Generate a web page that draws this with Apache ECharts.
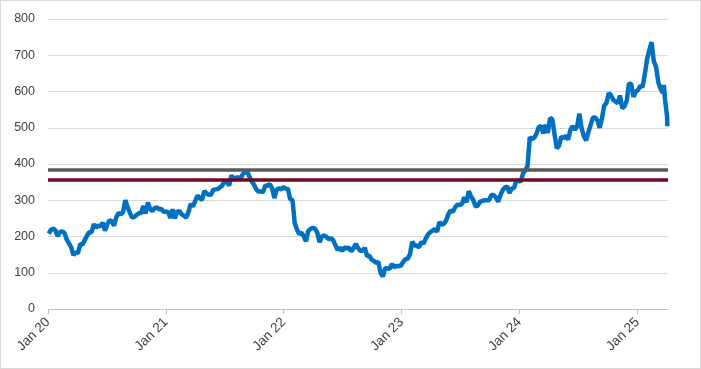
<!DOCTYPE html>
<html>
<head>
<meta charset="utf-8">
<script src="https://cdn.jsdelivr.net/npm/echarts@6/dist/echarts.min.js"></script>
<style>
html,body{margin:0;padding:0;background:#fff;}
#c{width:699px;height:367px;border:1px solid #D9D9D9;}
</style>
</head>
<body>
<div id="c"></div>
<script>
// Weekly closing prices
const dates = [
'2020-01-03','2020-01-10','2020-01-17','2020-01-24','2020-01-31','2020-02-07','2020-02-14','2020-02-21','2020-02-28','2020-03-06','2020-03-13','2020-03-20','2020-03-27','2020-04-03','2020-04-10','2020-04-17','2020-04-24','2020-05-01','2020-05-08','2020-05-15','2020-05-22','2020-05-29','2020-06-05','2020-06-12','2020-06-19','2020-06-26','2020-07-03','2020-07-10','2020-07-17','2020-07-24','2020-07-31','2020-08-07','2020-08-14','2020-08-21','2020-08-28','2020-09-04','2020-09-11','2020-09-18','2020-09-25','2020-10-02','2020-10-09','2020-10-16','2020-10-23','2020-10-30','2020-11-06','2020-11-13','2020-11-20','2020-11-27','2020-12-04','2020-12-11','2020-12-18','2020-12-25','2020-12-31',
'2021-01-08','2021-01-15','2021-01-22','2021-01-29','2021-02-05','2021-02-12','2021-02-19','2021-02-26','2021-03-05','2021-03-12','2021-03-19','2021-03-26','2021-04-02','2021-04-09','2021-04-16','2021-04-23','2021-04-30','2021-05-07','2021-05-14','2021-05-21','2021-05-28','2021-06-04','2021-06-11','2021-06-18','2021-06-25','2021-07-02','2021-07-09','2021-07-16','2021-07-23','2021-07-30','2021-08-06','2021-08-13','2021-08-20','2021-08-27','2021-09-03','2021-09-10','2021-09-17','2021-09-24','2021-10-01','2021-10-08','2021-10-15','2021-10-22','2021-10-29','2021-11-05','2021-11-12','2021-11-19','2021-11-26','2021-12-03','2021-12-10','2021-12-17','2021-12-24','2021-12-31',
'2022-01-07','2022-01-14','2022-01-21','2022-01-28','2022-02-04','2022-02-11','2022-02-18','2022-02-25','2022-03-04','2022-03-11','2022-03-18','2022-03-25','2022-04-01','2022-04-08','2022-04-15','2022-04-22','2022-04-29','2022-05-06','2022-05-13','2022-05-20','2022-05-27','2022-06-03','2022-06-10','2022-06-17','2022-06-24','2022-07-01','2022-07-08','2022-07-15','2022-07-22','2022-07-29','2022-08-05','2022-08-12','2022-08-19','2022-08-26','2022-09-02','2022-09-09','2022-09-16','2022-09-23','2022-09-30','2022-10-07','2022-10-14','2022-10-21','2022-10-28','2022-11-04','2022-11-11','2022-11-18','2022-11-25','2022-12-02','2022-12-09','2022-12-16','2022-12-23','2022-12-30',
'2023-01-06','2023-01-13','2023-01-20','2023-01-27','2023-02-03','2023-02-10','2023-02-17','2023-02-24','2023-03-03','2023-03-10','2023-03-17','2023-03-24','2023-03-31','2023-04-07','2023-04-14','2023-04-21','2023-04-28','2023-05-05','2023-05-12','2023-05-19','2023-05-26','2023-06-02','2023-06-09','2023-06-16','2023-06-23','2023-06-30','2023-07-07','2023-07-14','2023-07-21','2023-07-28','2023-08-04','2023-08-11','2023-08-18','2023-08-25','2023-09-01','2023-09-08','2023-09-15','2023-09-22','2023-09-29','2023-10-06','2023-10-13','2023-10-20','2023-10-27','2023-11-03','2023-11-10','2023-11-17','2023-11-24','2023-12-01','2023-12-08','2023-12-15','2023-12-22','2023-12-29',
'2024-01-05','2024-01-12','2024-01-19','2024-01-26','2024-02-02','2024-02-09','2024-02-16','2024-02-23','2024-03-01','2024-03-08','2024-03-15','2024-03-22','2024-03-29','2024-04-05','2024-04-12','2024-04-19','2024-04-26','2024-05-03','2024-05-10','2024-05-17','2024-05-24','2024-05-31','2024-06-07','2024-06-14','2024-06-21','2024-06-28','2024-07-05','2024-07-12','2024-07-19','2024-07-26','2024-08-02','2024-08-09','2024-08-16','2024-08-23','2024-08-30','2024-09-06','2024-09-13','2024-09-20','2024-09-27','2024-10-04','2024-10-11','2024-10-18','2024-10-25','2024-11-01','2024-11-08','2024-11-15','2024-11-22','2024-11-29','2024-12-06','2024-12-13','2024-12-20','2024-12-27',
'2025-01-03','2025-01-10','2025-01-17','2025-01-24','2025-01-31','2025-02-07','2025-02-14','2025-02-21','2025-02-28','2025-03-07','2025-03-14','2025-03-21','2025-03-24','2025-03-28','2025-04-03','2025-04-04'
];
const prices = [
208,218,222,217,201,212,214,210,192,181,170,149,156,154,179,178,190,202,212,211,234,225,230,228,238,216,233,245,242,230,253,265,261,267,300,282,266,252,254,259,264,265,284,263,294,276,270,278,280,275,276,268,273,
268,251,275,250,268,270,261,257,252,268,290,283,298,313,306,301,325,319,315,316,329,330,331,336,341,354,350,341,369,356,363,363,359,372,377,380,364,352,343,330,324,324,323,341,340,345,333,306,329,333,330,336,
332,331,303,301,237,219,206,211,200,187,216,221,224,222,210,184,200,203,199,193,195,190,176,163,170,160,170,167,169,159,167,180,168,161,160,169,146,147,136,133,127,130,99,90,113,112,111,124,115,119,118,120,
130,137,139,151,186,175,175,170,185,180,195,206,212,216,221,213,240,233,235,245,262,272,268,281,288,287,290,308,294,325,310,301,283,285,296,298,300,300,300,315,314,308,296,314,328,335,338,320,332,334,353,354,
351,374,383,394,474,468,473,484,502,505,484,508,486,527,523,481,443,451,476,471,478,467,494,504,494,504,539,498,476,465,488,508,528,528,521,500,525,561,568,595,590,577,573,567,589,554,559,574,623,620,585,599,
604,616,612,647,689,714,736,683,668,625,607,596,618,576,531,504
];
const levels = [385, 356];
const levelColors = ['#595959', '#6E0A22'];
const yearTicks = [2020, 2021, 2022, 2023, 2024, 2025];
const yTickMin = 0, yTickMax = 800, yTickStep = 100;

function fracYear(s) {
  const [y, m, d] = s.split('-').map(Number);
  const start = Date.UTC(y, 0, 1), end = Date.UTC(y + 1, 0, 1);
  return y + (Date.UTC(y, m - 1, d) - start) / (end - start);
}
const lineData = dates.map((d, i) => [fracYear(d), prices[i]]);

const chart = echarts.init(document.getElementById('c'), null, {renderer: 'canvas'});
const font = 'Liberation Sans, Arial, sans-serif';
chart.setOption({
  animation: false,
  grid: {left: 47, right: 32, top: 18, bottom: 59, containLabel: false},
  xAxis: {
    type: 'value', min: 2020, max: 2025.26, interval: 1,
    axisLine: {show: true, lineStyle: {color: '#BFBFBF', width: 1}},
    axisTick: {show: true, length: 5, lineStyle: {color: '#BFBFBF'}, customValues: yearTicks},
    splitLine: {show: false},
    axisLabel: {
      customValues: yearTicks,
      rotate: 45, margin: 11, color: '#404040', fontSize: 13.5, fontFamily: font,
      formatter: v => (Math.abs(v - Math.round(v)) < 1e-6) ? 'Jan ' + String(Math.round(v)).slice(2) : ''
    }
  },
  yAxis: {
    type: 'value', min: yTickMin, max: yTickMax, interval: yTickStep,
    axisLine: {show: false}, axisTick: {show: false},
    splitLine: {lineStyle: {color: '#D9D9D9', width: 1}},
    axisLabel: {margin: 13, color: '#404040', fontSize: 12.5, fontFamily: font}
  },
  series: [
    {
      type: 'line', data: lineData, showSymbol: false, symbol: 'none',
      lineStyle: {color: '#0070C0', width: 4.5}, z: 2
    },
    {
      type: 'line', data: [], z: 3,
      markLine: {
        silent: true, symbol: ['none', 'none'], label: {show: false},
        data: levels.map((v, i) => ({yAxis: v, lineStyle: {color: levelColors[i], width: 3.5, type: 'solid'}}))
      }
    }
  ]
});
</script>
</body>
</html>
